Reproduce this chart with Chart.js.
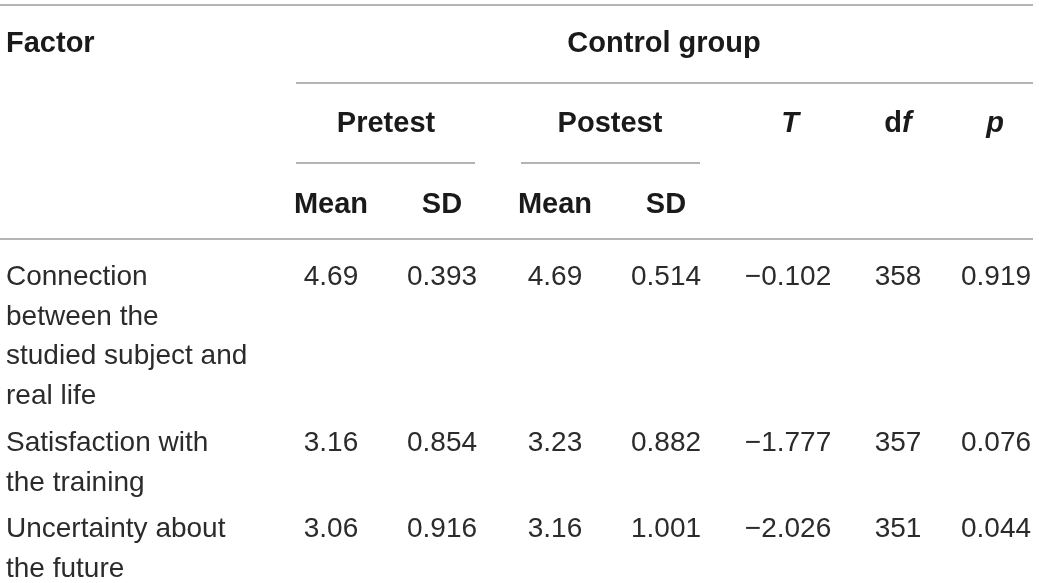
<!DOCTYPE html>
<html>
<head>
<meta charset="utf-8">
<script src="https://cdn.jsdelivr.net/npm/chart.js@4"></script>
<style>
  html, body { margin: 0; padding: 0; background: #fff; }
  #wrap { width: 1039px; height: 583px; }
</style>
</head>
<body>
<div id="wrap"><canvas id="myChart" width="1039" height="583"></canvas></div>
<script>
// table content
const factors = [
    ['Connection', 'between the', 'studied subject and', 'real life'],
    ['Satisfaction with', 'the training'],
    ['Uncertainty about', 'the future']
];
const preMean = ['4.69', '3.16', '3.06'];
const preSD = ['0.393', '0.854', '0.916'];
const postMean = ['4.69', '3.23', '3.16'];
const postSD = ['0.514', '0.882', '1.001'];
const tValues = ['\u22120.102', '\u22121.777', '\u22122.026'];
const dfValues = ['358', '357', '351'];
const pValues = ['0.919', '0.076', '0.044'];

// layout (pixel units on hidden linear scales)
const colX = [331, 442, 555, 666, 788, 898, 996];
const rowY = [285, 451, 537];
const lineGap = 39.5;
const FONT = '"Liberation Sans", Arial, Helvetica, sans-serif';
const BOLD = 'bold 29px ' + FONT;
const BOLD_IT = 'italic bold 29px ' + FONT;
const LINE = '#9b9b9b';

function rule(x1, x2, y) {
    return {
        type: 'line',
        data: [{ x: x1, y: y }, { x: x2, y: y }],
        borderColor: LINE,
        borderWidth: 1.6,
        pointRadius: 0,
        fill: false
    };
}

const tablePlugin = {
    id: 'tableText',
    afterDatasetsDraw(chart) {
        const c = chart.ctx;
        const sx = chart.scales.x, sy = chart.scales.y;
        const X = v => sx.getPixelForValue(v);
        const Y = v => sy.getPixelForValue(v);
        c.save();
        c.textBaseline = 'alphabetic';

        // header
        c.fillStyle = '#1a1a1a';
        c.font = BOLD;
        c.textAlign = 'left';
        c.fillText('Factor', X(6), Y(52));
        c.textAlign = 'center';
        c.fillText('Control group', X(664), Y(52));
        c.fillText('Pretest', X(386), Y(132));
        c.fillText('Postest', X(610), Y(132));
        ['Mean', 'SD', 'Mean', 'SD'].forEach((h, i) => c.fillText(h, X(colX[i]), Y(213)));
        c.font = BOLD_IT;
        c.fillText('T', X(790), Y(132));
        c.fillText('p', X(995), Y(132));
        // "df" with italic f
        c.font = BOLD;
        const wd = c.measureText('d').width;
        c.font = BOLD_IT;
        const wf = c.measureText('f').width;
        const left = X(colX[5]) - (wd + wf) / 2;
        c.textAlign = 'left';
        c.font = BOLD;
        c.fillText('d', left, Y(132));
        c.font = BOLD_IT;
        c.fillText('f', left + wd, Y(132));

        // body
        c.fillStyle = '#2b2b2b';
        c.font = '28px ' + FONT;
        factors.forEach((lines, r) => {
            c.textAlign = 'left';
            lines.forEach((t, k) => c.fillText(t, X(6), Y(rowY[r] + k * lineGap)));
            c.textAlign = 'center';
            const vals = [preMean[r], preSD[r], postMean[r], postSD[r], tValues[r], dfValues[r], pValues[r]];
            vals.forEach((v, i) => c.fillText(v, X(colX[i]), Y(rowY[r])));
        });
        c.restore();
    }
};

const ctx = document.getElementById('myChart').getContext('2d');
let myChart = new Chart(ctx, {
    type: 'scatter',
    data: {
        datasets: [
            rule(0, 1033, 5),
            rule(296, 1033, 83),
            rule(296, 475, 163),
            rule(521, 700, 163),
            rule(0, 1033, 239)
        ]
    },
    options: {
        responsive: false,
        animation: false,
        layout: { padding: 0 },
        plugins: {
            legend: { display: false },
            tooltip: { enabled: false }
        },
        scales: {
            x: { type: 'linear', min: 0, max: 1039, display: false },
            y: { type: 'linear', min: 0, max: 583, reverse: true, display: false }
        }
    },
    plugins: [tablePlugin]
});
</script>
</body>
</html>
